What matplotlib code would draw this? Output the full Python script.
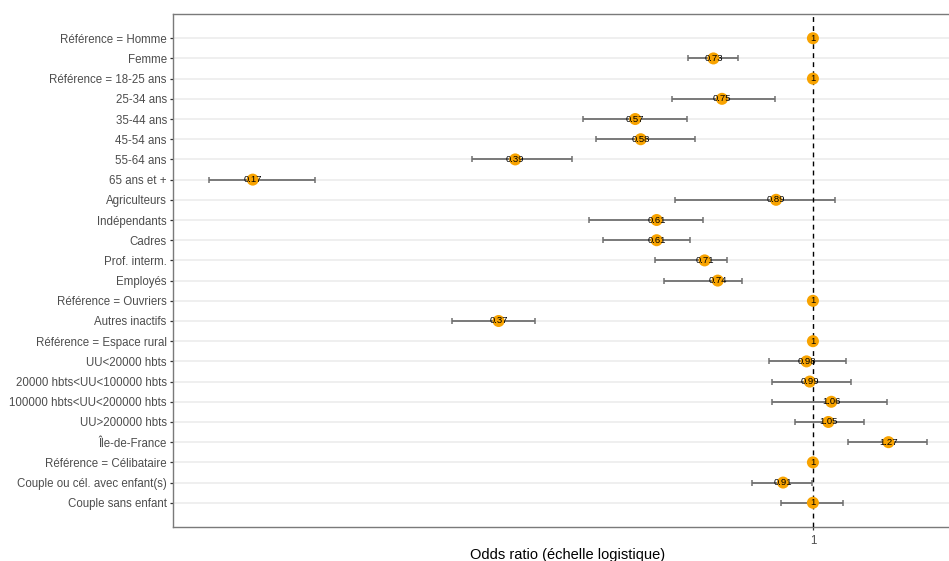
import numpy as np
import matplotlib
matplotlib.use("Agg")
import matplotlib.pyplot as plt

plt.rcParams['font.family'] = ['Liberation Sans', 'DejaVu Sans']

# Variables of the logistic model, top to bottom
labels = [
    "Référence = Homme", "Femme",
    "Référence = 18-25 ans", "25-34 ans", "35-44 ans", "45-54 ans", "55-64 ans", "65 ans et +",
    "Agriculteurs", "Indépendants", "Cadres", "Prof. interm.", "Employés",
    "Référence = Ouvriers", "Autres inactifs",
    "Référence = Espace rural", "UU<20000 hbts", "20000 hbts<UU<100000 hbts",
    "100000 hbts<UU<200000 hbts", "UU>200000 hbts", "Île-de-France",
    "Référence = Célibataire", "Couple ou cél. avec enfant(s)", "Couple sans enfant",
]

# Odds ratios (NaN bounds = reference category, no interval)
odds_ratio = [1, 0.73, 1, 0.75, 0.57, 0.58, 0.39, 0.17,
              0.89, 0.61, 0.61, 0.71, 0.74, 1, 0.37,
              1, 0.98, 0.99, 1.06, 1.05, 1.27,
              1, 0.91, 1]
ci_low = [np.nan, 0.673, np.nan, 0.640, 0.483, 0.503, 0.340, 0.148,
          0.646, 0.492, 0.514, 0.607, 0.624, np.nan, 0.319,
          np.nan, 0.869, 0.878, 0.878, 0.945, 1.117,
          np.nan, 0.824, 0.904]
ci_high = [np.nan, 0.789, np.nan, 0.887, 0.671, 0.688, 0.466, 0.207,
           1.072, 0.706, 0.678, 0.762, 0.799, np.nan, 0.415,
           np.nan, 1.111, 1.128, 1.264, 1.174, 1.435,
           np.nan, 0.997, 1.099]

odds_ratio = np.array(odds_ratio, dtype=float)
ci_low = np.array(ci_low, dtype=float)
ci_high = np.array(ci_high, dtype=float)
n = len(labels)
ypos = np.arange(n)[::-1]

W, H = 949, 561
fig = plt.figure(figsize=(W / 100, H / 100), dpi=100)
left_px, right_px, top_px, bottom_px = 173, 963, 14, 527
ax = fig.add_axes([left_px / W, 1 - bottom_px / H,
                   (right_px - left_px) / W, (bottom_px - top_px) / H])

# horizontal grid at each category
for y in ypos:
    ax.axhline(y, color="#ebebeb", lw=1.1, zorder=0)

# confidence intervals
has_ci = ~np.isnan(ci_low)
ax.errorbar(odds_ratio[has_ci], ypos[has_ci],
            xerr=[odds_ratio[has_ci] - ci_low[has_ci], ci_high[has_ci] - odds_ratio[has_ci]],
            fmt="none", ecolor="#707070", elinewidth=1.3, capsize=2.2, capthick=1.1, zorder=2)

ax.axvline(1, color="black", lw=1.0, ls=(0, (3.5, 3)), zorder=3)

ax.scatter(odds_ratio, ypos, s=75, color="#F8A300", edgecolors="none", zorder=4)
for x, y in zip(odds_ratio, ypos):
    ax.text(x, y, f"{x:g}", ha="center", va="center", fontsize=6.8, color="black", zorder=5)

ax.set_xscale("log")
lo = np.log(np.nanmin(ci_low))
hi = np.log(np.nanmax(ci_high))
pad = 0.05 * (hi - lo)
ax.set_xlim(np.exp(lo - pad), np.exp(hi + pad))
ax.set_ylim(-1.2, n - 1 + 1.2)

ax.set_xticks([1])
ax.set_xticklabels(["1"])
ax.xaxis.set_minor_locator(matplotlib.ticker.NullLocator())
ax.set_yticks(ypos)
ax.set_yticklabels(labels)
ax.tick_params(axis="both", colors="#333333", labelcolor="#4d4d4d", length=2.5, width=0.9,
               labelsize=8.3, pad=2)
ax.tick_params(axis="x", labelsize=8.3, pad=3)

ax.set_xlabel("Odds ratio (échelle logistique)", fontsize=10.5, color="black", labelpad=1)

for s in ax.spines.values():
    s.set_color("#7a7a7a")
    s.set_linewidth(1.0)

fig.savefig("out.png", dpi=100, facecolor="white")
